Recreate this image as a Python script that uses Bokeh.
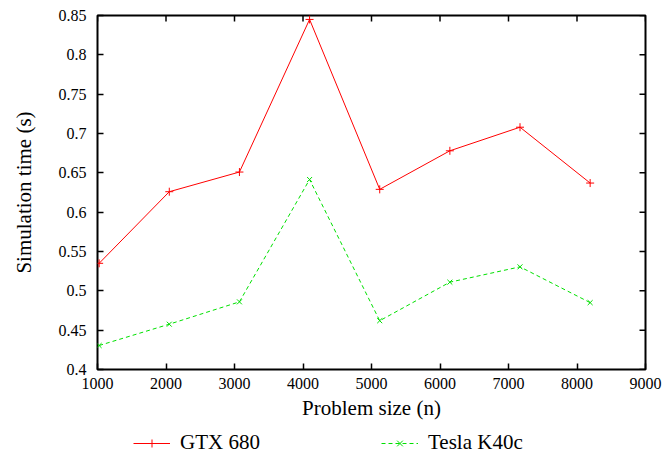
import math
from bokeh.plotting import figure
from bokeh.layouts import column
from bokeh.models import FixedTicker, Range1d, Legend, LegendItem
from bokeh.embed import file_html
from bokeh.resources import INLINE

sizes = [1024, 2048, 3072, 4096, 5120, 6144, 7168, 8192]
gtx680 = [0.535, 0.626, 0.651, 0.845, 0.629, 0.678, 0.708, 0.637]
teslak40c = [0.4305, 0.4576, 0.486, 0.6415, 0.462, 0.511, 0.5305, 0.485]
x_ticks = [1000, 2000, 3000, 4000, 5000, 6000, 7000, 8000, 9000]
y_ticks = [0.4, 0.45, 0.5, 0.55, 0.6, 0.65, 0.7, 0.75, 0.8, 0.85]
y_tick_labels = ["0.4", "0.45", "0.5", "0.55", "0.6", "0.65", "0.7", "0.75", "0.8", "0.85"]
series_names = ["GTX 680", "Tesla K40c"]

FONT = "Liberation Serif"
X0, X1 = 1000, 9000
Y0, Y1 = 0.4, 0.85
RED = "#ff0000"
GREEN = "#00e000"

p = figure(width=667, height=425, output_backend="svg", toolbar_location=None,
           x_range=Range1d(X0, X1), y_range=Range1d(Y0, Y1),
           min_border_left=97, min_border_right=22, min_border_top=15, min_border_bottom=56,
           x_axis_label="Problem size (n)", y_axis_label="Simulation time (s)")
p.grid.visible = False
p.outline_line_color = "black"
p.outline_line_width = 2
p.outline_line_alpha = 1.0
p.background_fill_color = "white"
p.border_fill_color = "white"

p.xaxis.ticker = FixedTicker(ticks=x_ticks)
p.yaxis.ticker = FixedTicker(ticks=y_ticks)
p.yaxis.major_label_overrides = {t: l for t, l in zip(y_ticks, y_tick_labels)}

for ax in [p.xaxis[0], p.yaxis[0]]:
    ax.major_tick_in = 6
    ax.major_tick_out = 0
    ax.minor_tick_line_color = None
    ax.major_tick_line_width = 1.5
    ax.major_tick_line_color = "black"
    ax.axis_line_color = None
    ax.major_label_text_font = FONT
    ax.major_label_text_font_size = "16px"
    ax.major_label_text_color = "black"
    ax.axis_label_text_font = FONT
    ax.axis_label_text_font_size = "21px"
    ax.axis_label_text_font_style = "normal"
    ax.axis_label_text_color = "black"
p.xaxis.major_label_standoff = 8
p.xaxis.axis_label_standoff = 4
p.yaxis.major_label_standoff = 11
p.yaxis.axis_label_standoff = 20

# mirrored ticks on the top and right edges (half of each dash is clipped by the frame)
p.scatter(x_ticks, [Y1] * len(x_ticks), marker="dash", angle=math.pi / 2, size=12,
          line_color="black", line_width=1.5)
p.scatter([X1] * len(y_ticks), y_ticks, marker="dash", size=12,
          line_color="black", line_width=1.5)

p.line(sizes, gtx680, line_color=RED, line_width=1)
p.scatter(sizes, gtx680, marker="cross", size=8, line_color=RED, line_width=1)
p.line(sizes, teslak40c, line_color=GREEN, line_width=1, line_dash="4 3")
p.scatter(sizes, teslak40c, marker="x", size=7, line_color=GREEN, line_width=1)

# legend strip below the chart; its renderers lie outside this strip's ranges,
# so only their legend swatches show
lg = figure(width=667, height=30, output_backend="svg", toolbar_location=None,
            x_range=Range1d(0, 1), y_range=Range1d(0, 0.01), min_border=0)
lg.axis.visible = False
lg.grid.visible = False
lg.outline_line_color = None
lg.background_fill_color = "white"
lg.border_fill_color = "white"
a1 = lg.line(sizes, gtx680, line_color=RED, line_width=1)
b1 = lg.scatter(sizes, gtx680, marker="cross", size=8, line_color=RED, line_width=1)
a2 = lg.line(sizes, teslak40c, line_color=GREEN, line_width=1, line_dash="4 3")
b2 = lg.scatter(sizes, teslak40c, marker="x", size=7, line_color=GREEN, line_width=1)

legend = Legend(items=[LegendItem(label=series_names[0], renderers=[a1, b1]),
                       LegendItem(label=series_names[1], renderers=[a2, b2])],
                orientation="horizontal", location=(36, 0))
legend.border_line_color = None
legend.background_fill_alpha = 0
legend.label_text_font = FONT
legend.label_text_font_size = "21px"
legend.label_text_color = "black"
legend.glyph_width = 37
legend.label_width = 181
legend.spacing = 20
legend.label_standoff = 10
legend.margin = 0
legend.padding = 0
lg.add_layout(legend, "center")

layout = column(p, lg, spacing=0)
open("out.html", "w").write(file_html(layout, INLINE))
